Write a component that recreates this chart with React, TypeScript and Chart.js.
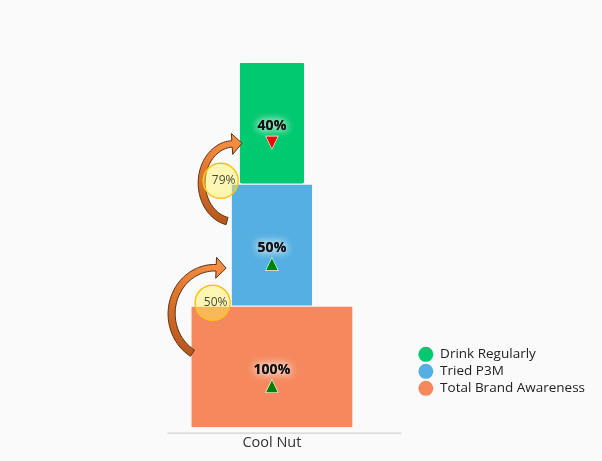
import React, { useEffect, useRef } from 'react';
import { Chart, registerables } from 'chart.js';

Chart.register(...registerables);

// ---- data ----
const categories = ['Cool Nut'];
const stageLabels = ['Total Brand Awareness', 'Tried P3M', 'Drink Regularly'];
const stageShares = [100, 50, 40]; // % of total brand awareness
const stageTrends = ['up', 'up', 'down'];
const stageUnits = [1, 1, 1]; // each funnel level has the same height
const conversionRates = [50, 79]; // awareness -> tried, tried -> drink
const stageColors = ['#f5895d', '#55b0e2', '#00c96f'];

const FONT = '"Segoe UI", "Open Sans", "Noto Sans", sans-serif';
const FULL_BAR = 0.564; // bar fraction of the category for a 100% level

type Pt = [number, number];

// arrow shapes (elliptical arcs) relative to (upper bar left, upper bar bottom)
const arrowShapes = [
  { c: [-17, 8] as Pt, rx: 43, ry: 46, a0: 121, a1: 272 },
  { c: [-6, -1] as Pt, rx: 32, ry: 39, a0: 102, a1: 267 },
];

function drawArrow(ctx: CanvasRenderingContext2D, c: Pt, rx: number, ry: number, a0: number, a1: number) {
  const N = 48;
  const left: Pt[] = [];
  const right: Pt[] = [];
  const pt = (a: number): Pt => [c[0] + rx * Math.cos(a), c[1] + ry * Math.sin(a)];
  const tan = (a: number): Pt => {
    const dx = -rx * Math.sin(a);
    const dy = ry * Math.cos(a);
    const l = Math.hypot(dx, dy) || 1;
    return [dx / l, dy / l];
  };
  const r0 = (a0 * Math.PI) / 180;
  const r1 = (a1 * Math.PI) / 180;
  for (let i = 0; i <= N; i++) {
    const t = i / N;
    const a = r0 + (r1 - r0) * t;
    const p = pt(a);
    const d = tan(a);
    const n: Pt = [-d[1], d[0]];
    const w = 7.5 - 1 * t;
    left.push([p[0] + (n[0] * w) / 2, p[1] + (n[1] * w) / 2]);
    right.push([p[0] - (n[0] * w) / 2, p[1] - (n[1] * w) / 2]);
  }
  const P3 = pt(r1);
  const de = tan(r1);
  const ne: Pt = [-de[1], de[0]];
  const tip: Pt = [P3[0] + de[0] * 10, P3[1] + de[1] * 10];
  const w1: Pt = [P3[0] + ne[0] * 10.5, P3[1] + ne[1] * 10.5];
  const w2: Pt = [P3[0] - ne[0] * 10.5, P3[1] - ne[1] * 10.5];
  const P0 = pt(r0);
  ctx.save();
  ctx.beginPath();
  ctx.moveTo(left[0][0], left[0][1]);
  for (let i = 1; i <= N; i++) ctx.lineTo(left[i][0], left[i][1]);
  ctx.lineTo(w1[0], w1[1]);
  ctx.lineTo(tip[0], tip[1]);
  ctx.lineTo(w2[0], w2[1]);
  for (let i = N; i >= 0; i--) ctx.lineTo(right[i][0], right[i][1]);
  ctx.closePath();
  const g = ctx.createLinearGradient(tip[0], tip[1], P0[0], P0[1]);
  g.addColorStop(0, '#f58e42');
  g.addColorStop(0.5, '#dd742c');
  g.addColorStop(1, '#b9581e');
  ctx.fillStyle = g;
  ctx.fill();
  ctx.lineWidth = 1;
  ctx.strokeStyle = '#5a3214';
  ctx.lineJoin = 'miter';
  ctx.stroke();
  ctx.restore();
}

const funnelDecor = {
  id: 'funnelDecor',
  afterLayout(chart: any) {
    const lg = chart.legend;
    if (lg) {
      lg.top -= 29;
      lg.bottom -= 29;
    }
  },
  afterDatasetsDraw(chart: any) {
    const ctx: CanvasRenderingContext2D = chart.ctx;
    const bars = chart.data.datasets.map((_: any, i: number) => {
      const el = chart.getDatasetMeta(i).data[0];
      const p = el.getProps(['x', 'y', 'base', 'width'], true);
      return { cx: p.x, left: p.x - p.width / 2, top: Math.min(p.y, p.base), bottom: Math.max(p.y, p.base) };
    });

    // arrows
    conversionRates.forEach((_, i) => {
      const up = bars[i + 1];
      const s = arrowShapes[i];
      drawArrow(ctx, [up.left + s.c[0], up.bottom + s.c[1]], s.rx, s.ry, s.a0, s.a1);
    });

    // conversion circles
    conversionRates.forEach((rate, i) => {
      const up = bars[i + 1];
      const cx = up.left - 19;
      const cy = up.bottom - 3;
      ctx.save();
      ctx.beginPath();
      ctx.arc(cx, cy, 17.5, 0, Math.PI * 2);
      ctx.fillStyle = 'rgba(255, 242, 90, 0.45)';
      ctx.fill();
      ctx.lineWidth = 1.5;
      ctx.strokeStyle = '#ffc21a';
      ctx.stroke();
      ctx.font = `12px ${FONT}`;
      ctx.fillStyle = '#4a4a3a';
      ctx.textAlign = 'center';
      ctx.textBaseline = 'middle';
      ctx.fillText(`${rate}%`, cx + 3, cy);
      ctx.restore();
    });

    // value labels + trend triangles
    bars.forEach((b: any, i: number) => {
      const cy = (b.top + b.bottom) / 2;
      ctx.save();
      ctx.font = `bold 14px ${FONT}`;
      ctx.textAlign = 'center';
      ctx.textBaseline = 'middle';
      ctx.shadowColor = 'rgba(255,255,255,0.9)';
      ctx.shadowBlur = 8;
      ctx.fillStyle = '#111111';
      ctx.fillText(`${stageShares[i]}%`, b.cx, cy + 3);
      ctx.fillText(`${stageShares[i]}%`, b.cx, cy + 3);
      ctx.restore();

      const top = cy + 13.5;
      const h = 12;
      const hw = 5.8;
      ctx.save();
      ctx.beginPath();
      if (stageTrends[i] === 'up') {
        ctx.moveTo(b.cx, top);
        ctx.lineTo(b.cx + hw, top + h);
        ctx.lineTo(b.cx - hw, top + h);
      } else {
        ctx.moveTo(b.cx - hw, top);
        ctx.lineTo(b.cx + hw, top);
        ctx.lineTo(b.cx, top + h);
      }
      ctx.closePath();
      ctx.fillStyle = stageTrends[i] === 'up' ? '#008000' : '#ff0000';
      ctx.strokeStyle = '#ffffff';
      ctx.lineWidth = 1.2;
      ctx.stroke();
      ctx.fill();
      ctx.restore();
    });
  },
  afterDraw(chart: any) {
    const { ctx, chartArea } = chart;
    const xs = chart.scales.x;
    const center = xs.getPixelForValue(0);
    ctx.save();
    ctx.strokeStyle = '#c8c8c8';
    ctx.lineWidth = 1;
    ctx.beginPath();
    ctx.moveTo(center - 104.5, chartArea.bottom + 5.5);
    ctx.lineTo(center + 129.5, chartArea.bottom + 5.5);
    ctx.stroke();
    ctx.restore();
  },
};

export default function App() {
  const ref = useRef<HTMLCanvasElement | null>(null);
  useEffect(() => {
    if (!ref.current) return;
    const chart = new Chart(ref.current, {
      type: 'bar',
      data: {
        labels: categories,
        datasets: stageLabels.map((label, i) => ({
          label,
          data: [stageUnits[i]],
          backgroundColor: stageColors[i],
          borderColor: '#fafafa',
          borderWidth: { top: 1, left: 0, right: 0, bottom: 0 },
          borderRadius: 2,
          borderSkipped: false,
          categoryPercentage: 1,
          barPercentage: (stageShares[i] / 100) * FULL_BAR,
        })),
      },
      options: {
        animation: false,
        responsive: true,
        maintainAspectRatio: false,
        layout: { padding: { left: 129, right: 7, top: 62, bottom: 2 } },
        scales: {
          x: {
            stacked: true,
            grid: { display: false, drawTicks: false },
            border: { display: false },
            ticks: { color: '#333333', font: { family: FONT, size: 14.5 }, padding: 7 },
          },
          y: { stacked: true, display: false, min: 0, max: stageUnits.reduce((a, b) => a + b, 0) },
        },
        plugins: {
          tooltip: { enabled: false },
          legend: {
            position: 'right',
            align: 'end',
            fullSize: false,
            reverse: true,
            labels: {
              usePointStyle: true,
              pointStyle: 'circle',
              pointStyleWidth: 15,
              boxHeight: 10.6,
              padding: 3.5,
              color: '#222222',
              font: { family: FONT, size: 13.5, lineHeight: 1.15 },
              generateLabels: (c: any) =>
                (Chart.defaults.plugins.legend.labels as any).generateLabels(c).map((l: any) => ({ ...l, lineWidth: 0 })),
            },
          },
        },
      },
      plugins: [funnelDecor],
    });
    return () => chart.destroy();
  }, []);
  return (
    <div style={{ position: 'fixed', left: 0, top: 0, width: 602, height: 461, background: '#fafafa' }}>
      <canvas ref={ref} style={{ display: 'block' }} />
    </div>
  );
}
